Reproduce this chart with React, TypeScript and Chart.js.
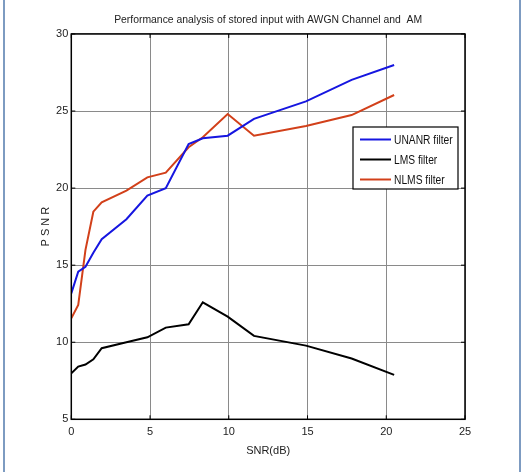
import React, { useEffect, useRef } from "react";
import { Chart, registerables } from "chart.js";

Chart.register(...registerables);

const snr = [0, 0.44, 0.9, 1.4, 1.93, 3.5, 4.83, 6, 7.45, 8.35, 9.93, 11.6, 14.9, 17.8, 20.5];
const unanr = [13.17, 14.58, 14.9, 15.8, 16.68, 17.98, 19.51, 20.0, 22.86, 23.23, 23.4, 24.49, 25.63, 27.02, 27.99];
const lms = [7.98, 8.42, 8.55, 8.89, 9.61, 10.0, 10.32, 10.95, 11.16, 12.59, 11.66, 10.41, 9.78, 8.94, 7.88];
const nlms = [11.55, 12.42, 15.99, 18.47, 19.08, 19.84, 20.7, 21.0, 22.65, 23.3, 24.81, 23.4, 24.03, 24.74, 26.04];
const seriesNames = ["UNANR filter", "LMS filter", "NLMS filter"];
const seriesColors = ["#1616e0", "#000000", "#d2401a"];
const xTicks = [0, 5, 10, 15, 20, 25];
const yTicks = [5, 10, 15, 20, 25, 30];
const titleText = "Performance analysis of stored input with AWGN Channel and  AM";

const FONT = "'Liberation Sans', Arial, sans-serif";

const boxPlugin = {
  id: "boxPlugin",
  afterDraw(chart: any) {
    const { ctx, chartArea } = chart;
    const { left, right, top, bottom } = chartArea;
    ctx.save();
    ctx.strokeStyle = "#000";
    ctx.lineWidth = 1.5;
    ctx.strokeRect(left, top, right - left, bottom - top);
    ctx.lineWidth = 1;
    const xs = chart.scales.x;
    const ys = chart.scales.y;
    xTicks.forEach((v) => {
      const px = xs.getPixelForValue(v);
      ctx.beginPath();
      ctx.moveTo(px, top);
      ctx.lineTo(px, top + 4);
      ctx.moveTo(px, bottom);
      ctx.lineTo(px, bottom - 4);
      ctx.stroke();
    });
    yTicks.forEach((v) => {
      const py = ys.getPixelForValue(v);
      ctx.beginPath();
      ctx.moveTo(right, py);
      ctx.lineTo(right - 4, py);
      ctx.moveTo(left, py);
      ctx.lineTo(left + 4, py);
      ctx.stroke();
    });
    // legend box
    const lx = 353;
    const ly = 127;
    const lw = 105;
    const lh = 62;
    ctx.fillStyle = "#fff";
    ctx.fillRect(lx, ly, lw, lh);
    ctx.strokeStyle = "#000";
    ctx.lineWidth = 1.2;
    ctx.strokeRect(lx, ly, lw, lh);
    ctx.font = "12.5px " + FONT;
    ctx.textBaseline = "middle";
    ctx.textAlign = "left";
    chart.data.datasets.forEach((ds: any, i: number) => {
      const yy = ly + 12.5 + i * 20;
      ctx.strokeStyle = ds.borderColor;
      ctx.lineWidth = 2;
      ctx.beginPath();
      ctx.moveTo(360, yy);
      ctx.lineTo(391, yy);
      ctx.stroke();
      ctx.save();
      ctx.translate(394, yy + 1);
      ctx.scale(0.82, 1);
      ctx.fillStyle = "#111";
      ctx.fillText(ds.label, 0, 0);
      ctx.restore();
    });
    ctx.restore();
  },
};

export default function App() {
  const ref = useRef<HTMLCanvasElement | null>(null);
  useEffect(() => {
    if (!ref.current) return;
    const series = [unanr, lms, nlms];
    const chart = new Chart(ref.current, {
      type: "line",
      data: {
        datasets: series.map((vals, i) => ({
          label: seriesNames[i],
          data: snr.map((x, j) => ({ x, y: vals[j] })),
          borderColor: seriesColors[i],
          backgroundColor: seriesColors[i],
          borderWidth: 2,
          pointRadius: 0,
          tension: 0,
          fill: false,
        })),
      },
      options: {
        animation: false,
        responsive: false,
        maintainAspectRatio: false,
        layout: { padding: { left: 0, right: 63, top: 6, bottom: 12.7 } },
        plugins: {
          legend: { display: false },
          tooltip: { enabled: false },
          title: {
            display: true,
            text: titleText,
            fullSize: false,
            color: "#222",
            font: { family: FONT, size: 10.4, weight: "normal" },
            padding: { top: 7.8, bottom: 7.7 },
          },
        },
        scales: {
          x: {
            type: "linear",
            min: 0,
            max: 25,
            afterBuildTicks: (s: any) => {
              s.ticks = xTicks.map((v) => ({ value: v }));
            },
            afterFit: (s: any) => {
              s.height = 40;
            },
            grid: { color: "#8a8a8a", lineWidth: 1, drawTicks: false },
            border: { display: false },
            ticks: {
              color: "#222",
              padding: 6,
              maxRotation: 0,
              font: { family: FONT, size: 11 },
            },
            title: {
              display: true,
              text: "SNR(dB)",
              color: "#222",
              font: { family: FONT, size: 11 },
              padding: { top: 0, bottom: 2 },
            },
          },
          y: {
            type: "linear",
            min: 5,
            max: 30,
            afterBuildTicks: (s: any) => {
              s.ticks = yTicks.map((v) => ({ value: v }));
            },
            afterFit: (s: any) => {
              s.width = 71.3;
            },
            grid: { color: "#8a8a8a", lineWidth: 1, drawTicks: false },
            border: { display: false },
            ticks: {
              color: "#222",
              padding: 3,
              font: { family: FONT, size: 11 },
            },
            title: {
              display: true,
              text: "P S N R",
              color: "#222",
              font: { family: FONT, size: 11 },
              padding: { top: 39, bottom: 0 },
            },
          },
        },
      },
      plugins: [boxPlugin],
    });
    return () => chart.destroy();
  }, []);

  return (
    <div style={{ position: "absolute", left: 0, top: 0, width: 528, height: 472, background: "#fff", overflow: "hidden" }}>
      <div
        style={{
          position: "absolute",
          left: 3,
          top: 0,
          width: 518,
          height: 472,
          borderLeft: "2px solid #7d9bc1",
          borderRight: "2px solid #7d9bc1",
          boxSizing: "border-box",
        }}
      />
      <canvas ref={ref} width={528} height={472} style={{ position: "absolute", left: 0, top: 0, width: 528, height: 472 }} />
    </div>
  );
}
